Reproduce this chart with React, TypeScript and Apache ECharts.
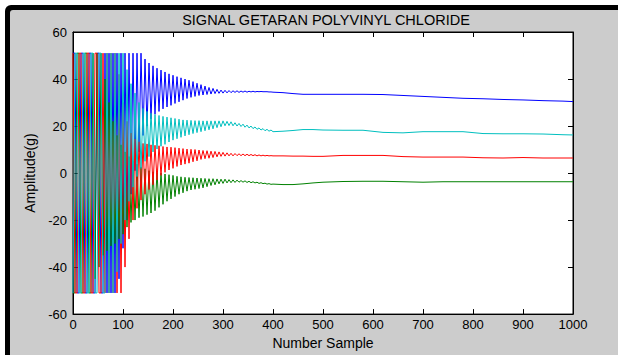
import React, { useEffect, useRef } from "react";
import * as echarts from "echarts";

// Sample indices of the oscillating (early) part of every signal
const oscSamples = [
  0, 4, 8, 12, 16, 20, 24, 28, 32, 36,
  40, 44, 48, 52, 56, 60, 64, 68, 72, 76,
  80, 84, 88, 92, 96, 100, 104, 108, 112, 116,
  120, 124, 128, 132, 136, 140, 144, 148, 152, 156,
  160, 164, 168, 172, 176, 180, 184, 188, 192, 196,
  200, 204, 208, 212, 216, 220, 224, 228, 232, 236,
  240, 244, 248, 252, 256, 260, 264, 268, 272, 276,
  280, 284, 288, 292, 296, 300, 304, 308, 312, 316,
  320, 324, 328, 332, 336, 340, 344, 348, 352, 356,
  360, 364, 368, 372, 376, 380, 384, 388, 392, 396,
  400,
];

// Sample indices of the settled (late) part
const tailSamples = [420, 440, 460, 480, 500, 540, 580, 620, 660, 700, 740, 780, 820, 860, 900, 940, 980, 1000];

const blueOsc = [
  51, 51, -51, -51, 51, 51, -51, -51, 51, 51,
  -51, -51, 51, 51, -51, -51, 51, -51, 51, -51,
  51, -51, 51, -45, 51, -32, 51, -20, 51, -9,
  51, 1, 51, 9, 51, 16, 48.5, 20, 46.8, 23,
  45.6, 25, 44.6, 26.2, 43.8, 27.3, 43, 28.1, 42.2, 28.8,
  41.6, 29.6, 41, 30.3, 40.5, 31, 40, 31.7, 39.5, 32.2,
  38.9, 32.6, 38.2, 33, 37.6, 33.2, 37, 33.4, 36.4, 33.6,
  36, 33.8, 35.6, 33.9, 35.3, 34, 35.2, 34.1, 35.1, 34.2,
  35, 34.3, 35, 34.3, 34.9, 34.4, 34.9, 34.4, 34.8, 34.5,
  34.8, 34.5, 34.7, 34.6, 34.7, 34.6, 34.6, 34.6, 34.5, 34.5,
  34.4,
];
const blueTail = [34.2, 33.8, 33.5, 33.5, 33.5, 33.5, 33.5, 33.4, 33, 32.6, 32.2, 31.8, 31.6, 31.3, 31.1, 30.8, 30.6, 30.4];

const cyanOsc = [
  -51, 51, 51, -51, -51, 51, 51, -51, -51, 51,
  51, -51, -51, 51, 51, -51, -51, 51, -51, 51,
  -51, 51, -42, 51, -30, 51, -20, 44, -12, 38,
  -6, 34, -1.5, 30, 2, 27.5, 5, 26.2, 7, 25.4,
  9, 24.9, 10.2, 24.5, 11.4, 24.1, 12.2, 23.8, 13.2, 23.5,
  14, 23.2, 14.6, 22.9, 15.2, 22.6, 15.8, 22.5, 16.3, 22.4,
  16.8, 22.3, 17.2, 22.3, 17.6, 22.2, 18, 22.2, 18.4, 22.2,
  18.8, 22.2, 19.3, 22.2, 19.7, 22.2, 20.1, 22, 20.2, 21.8,
  20.1, 21.4, 20, 21.1, 19.8, 20.8, 19.5, 20.4, 19.2, 20,
  18.9, 19.6, 18.6, 19.2, 18.3, 18.9, 18, 18.6, 17.8, 18.3,
  17.6,
];
const cyanTail = [17.8, 18.1, 18.5, 18.5, 18.3, 18.2, 18.2, 17.3, 17.1, 17.6, 17.6, 17.6, 16.8, 16.7, 16.7, 16.6, 16.3, 16.2];

const redOsc = [
  51, -51, -51, 51, 51, -51, -51, 51, 51, -51,
  -51, 51, 51, -51, -51, 51, -51, 51, -51, 51,
  -51, 51, -51, 42, -51, 30, -40, 22, -28, 17,
  -20, 14.5, -15, 13.3, -11.5, 12.6, -9, 12.4, -7, 12,
  -5, 11.8, -3, 11.6, -1, 11.3, 0.3, 11.1, 1.3, 11,
  2, 10.8, 2.8, 10.6, 3.4, 10.4, 3.8, 10.2, 4.2, 10.1,
  4.8, 10, 5.2, 9.8, 5.8, 9.6, 6.1, 9.5, 6.3, 9.3,
  6.6, 9.2, 6.9, 9, 7.1, 8.8, 7.2, 8.6, 7.3, 8.4,
  7.3, 8.3, 7.4, 8.2, 7.4, 8.1, 7.4, 8, 7.4, 7.9,
  7.4, 7.8, 7.3, 7.7, 7.3, 7.6, 7.3, 7.5, 7.3, 7.4,
  7.3,
];
const redTail = [7.3, 7.2, 7.2, 7.1, 7.1, 7.5, 7.5, 7.5, 7, 6.8, 6.8, 6.8, 6.5, 6.4, 6.6, 6.4, 6.4, 6.4];

const greenOsc = [
  -51, -51, 51, 51, -51, -51, 51, 51, -51, -51,
  51, -45, 51, -40, 51, -35, 40, -33, 30, -31,
  22, -30, 16, -28, 12, -26, 9, -23, 7, -21,
  5, -20, 3.8, -19, 2.6, -18.5, 1.8, -17.7, 1, -17,
  0.5, -16, 0.2, -14.6, 0, -13.3, -0.4, -12, -0.7, -11,
  -1, -10, -1.4, -9, -1.6, -8.4, -1.8, -7.7, -1.9, -7.2,
  -2, -6.9, -2.1, -6.6, -2.2, -6.3, -2.3, -5.8, -2.4, -5.3,
  -2.4, -5, -2.5, -4.6, -2.6, -4.4, -2.6, -4.2, -2.8, -4.1,
  -2.9, -4, -3, -3.9, -3.2, -3.9, -3.3, -4, -3.5, -4.1,
  -3.7, -4.2, -3.9, -4.4, -4.1, -4.5, -4.3, -4.7, -4.5, -4.8,
  -4.7,
];
const greenTail = [-4.9, -4.9, -4.6, -4.2, -3.9, -3.6, -3.5, -3.5, -3.7, -3.9, -3.7, -3.7, -3.7, -3.7, -3.7, -3.7, -3.7, -3.7];

const FONT = "'Liberation Sans', Arial, Helvetica, sans-serif";

function build(osc: number[], tail: number[]) {
  return oscSamples.map((s, i) => [s, osc[i]]).concat(tailSamples.map((s, i) => [s, tail[i]]));
}

export default function App() {
  const ref = useRef<HTMLDivElement>(null);
  useEffect(() => {
    const chart = echarts.init(ref.current!, null, { renderer: "svg" });
    const axisLine = { show: true, onZero: false, lineStyle: { color: "#000", width: 1 } };
    const axisTick = { show: true, inside: true, length: 5, lineStyle: { color: "#000", width: 1 } };
    const plain = (v: number) => String(v);
    const mk = (name: string, color: string, data: number[][]) => ({
      name,
      type: "line",
      data,
      showSymbol: false,
      symbol: "none",
      clip: true,
      lineStyle: { color, width: 1 },
      itemStyle: { color },
      emphasis: { disabled: true },
      silent: true,
    });
    chart.setOption({
      animation: false,
      title: {
        text: "SIGNAL GETARAN POLYVINYL CHLORIDE",
        left: 321,
        top: 7,
        textAlign: "center",
        textStyle: { fontSize: 14.5, fontWeight: "normal", color: "#000", fontFamily: FONT },
      },
      grid: {
        left: 73,
        right: 45,
        top: 32,
        bottom: 34,
        show: true,
        backgroundColor: "#fff",
        borderColor: "#000",
        borderWidth: 1,
      },
      xAxis: [
        {
          type: "value",
          min: 0,
          max: 1000,
          interval: 100,
          position: "bottom",
          axisLine,
          axisTick,
          splitLine: { show: false },
          axisLabel: { color: "#000", fontSize: 13, margin: 4, fontFamily: FONT, formatter: plain },
          name: "Number Sample",
          nameLocation: "middle",
          nameGap: 15,
          nameTextStyle: { fontSize: 14, color: "#000", fontFamily: FONT },
        },
        {
          type: "value",
          min: 0,
          max: 1000,
          interval: 100,
          position: "top",
          axisLine,
          axisTick,
          splitLine: { show: false },
          axisLabel: { show: false },
        },
      ],
      yAxis: [
        {
          type: "value",
          min: -60,
          max: 60,
          interval: 20,
          position: "left",
          axisLine,
          axisTick,
          splitLine: { show: false },
          axisLabel: { color: "#000", fontSize: 13, margin: 6, fontFamily: FONT, formatter: plain },
          name: "Amplitude(g)",
          nameLocation: "middle",
          nameGap: 36,
          nameTextStyle: { fontSize: 14, color: "#000", fontFamily: FONT },
        },
        {
          type: "value",
          min: -60,
          max: 60,
          interval: 20,
          position: "right",
          axisLine,
          axisTick,
          splitLine: { show: false },
          axisLabel: { show: false },
        },
      ],
      series: [
        mk("X", "#0000ff", build(blueOsc, blueTail)),
        mk("Y", "#008000", build(greenOsc, greenTail)),
        mk("Z", "#ff0000", build(redOsc, redTail)),
        mk("W", "#00bfbf", build(cyanOsc, cyanTail)),
      ],
    });
    return () => chart.dispose();
  }, []);
  return (
    <div style={{ position: "fixed", left: 0, top: 0, width: 618, height: 355, background: "#fff", overflow: "hidden" }}>
      <div style={{ position: "absolute", left: 5, top: 5, width: 640, height: 380, background: "#000", borderTopLeftRadius: 6 }} />
      <div style={{ position: "absolute", left: 10, top: 10, width: 640, height: 380, background: "#cccccc", borderTopLeftRadius: 3 }} />
      <div ref={ref} style={{ position: "absolute", left: 0, top: 0, width: 618, height: 355 }} />
    </div>
  );
}
